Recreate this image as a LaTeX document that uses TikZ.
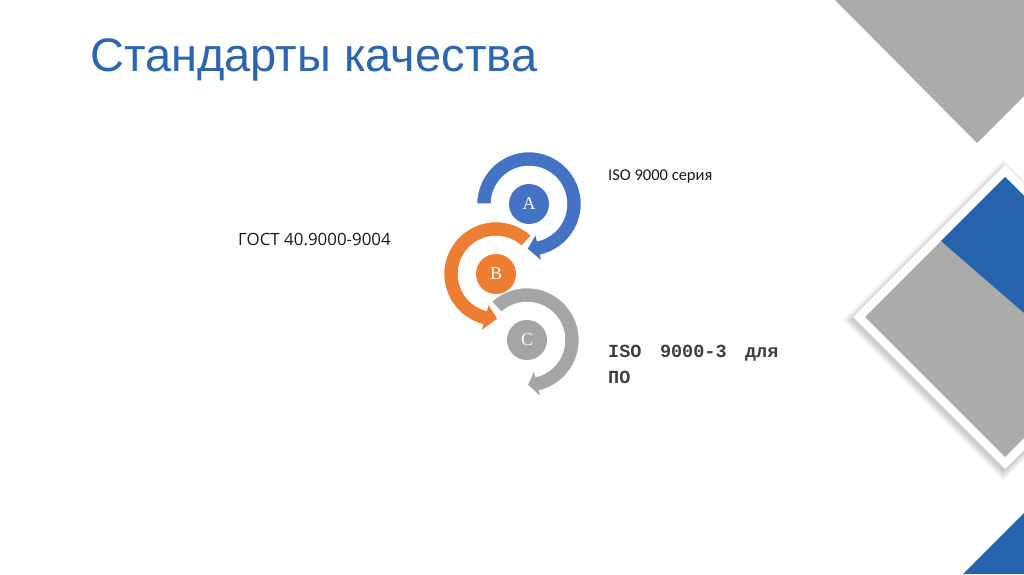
\documentclass[tikz,border=0pt]{standalone}
\usepackage{fontspec}
\setmainfont{Open Sans}
\newfontfamily\titlefont{Liberation Sans}
\newfontfamily\monofont{Liberation Mono}
\newfontfamily\calfont{Carlito}
\newfontfamily\letterfont{Liberation Serif}
\definecolor{cblue}{HTML}{4472C4}
\definecolor{corange}{HTML}{ED7D31}
\definecolor{cgray}{HTML}{A5A5A5}
\definecolor{decogray}{HTML}{ABABAB}
\definecolor{decoblue}{HTML}{2563AC}
\definecolor{ctitle}{HTML}{2B66AE}
\definecolor{cmono}{HTML}{3F3F3F}
\newcommand{\ringarrow}[6]{%
  \fill[#6,draw=white,line width=1.5pt,line join=miter]
    ([shift={(#3:52.5)}]#1,#2) arc[start angle=#3,end angle=#4,radius=52.5]
    -- ([shift={(#4:60)}]#1,#2) -- ([shift={(#5:45)}]#1,#2)
    -- ([shift={(#4:30)}]#1,#2) -- ([shift={(#4:37.5)}]#1,#2)
    arc[start angle=#4,end angle=#3,radius=37.5] -- cycle;}
\tikzset{
  lbl/.style={anchor=base west,inner sep=0pt,text=black!90},
  monolbl/.style={anchor=base west,inner sep=0pt,font=\monofont\bfseries\fontsize{18.5}{22}\selectfont,text=cmono},
  letter/.style={circle,inner sep=0pt,minimum size=40pt,text=white,font=\letterfont\fontsize{18}{18}\selectfont},
}
\begin{document}
\begin{tikzpicture}[x=1pt,y=1pt]
\useasboundingbox (0,0) rectangle (1024,574);
\fill[white] (0,0) rectangle (1024,574);
% right decoration
\begin{scope}
\clip (0,0) rectangle (1024,574);
\fill[decogray] (835,574) -- (977,431) -- (1120,574) -- cycle;
\foreach \i in {0,...,9}{
  \fill[black,opacity=0.02] ({853-2-\i},{257-3}) -- ({1005-2},{409-3+\i}) -- ({1157-2+\i},{257-3}) -- ({1005-2},{105-3-\i}) -- cycle;
}
\fill[white] (853,257) -- (1005,409) -- (1157,257) -- (1005,105) -- cycle;
\fill[decogray] (865,257) -- (1005,397) -- (1145,257) -- (1005,117) -- cycle;
\fill[decoblue] (941,333) -- (1005,397) -- (1145,257) -- (1091,203) -- cycle;
\fill[decoblue] (963,0) -- (1030,67) -- (1030,0) -- cycle;
\end{scope}
% title
\node[anchor=base west,inner sep=0pt,font=\titlefont\fontsize{47}{56}\selectfont,text=ctitle] (title) at (90,502) {Стандарты качества};
% circular arrows
\ringarrow{529}{370}{180}{-77}{-93}{cblue}
\ringarrow{496}{300}{47}{255}{273}{corange}
\ringarrow{527}{234}{133}{-76}{-90}{cgray}
\node[letter,fill=cblue] (A) at (529,370) {A};
\node[letter,fill=corange] (B) at (496,300) {B};
\node[letter,fill=cgray] (C) at (527,234) {C};
% labels
\node[lbl,font=\calfont\fontsize{16.5}{20}\selectfont] (iso) at (608,393) {ISO 9000 серия};
\node[lbl,font=\fontsize{16.9}{20}\selectfont] (gost) at (238,329) {ГОСТ 40.9000-9004};
\node[monolbl] (iso3a) at (608,217) {ISO\hspace{18.5pt}9000-3\hspace{18.5pt}для};
\node[monolbl] (iso3b) at (608,191) {ПО};
\end{tikzpicture}
\end{document}
